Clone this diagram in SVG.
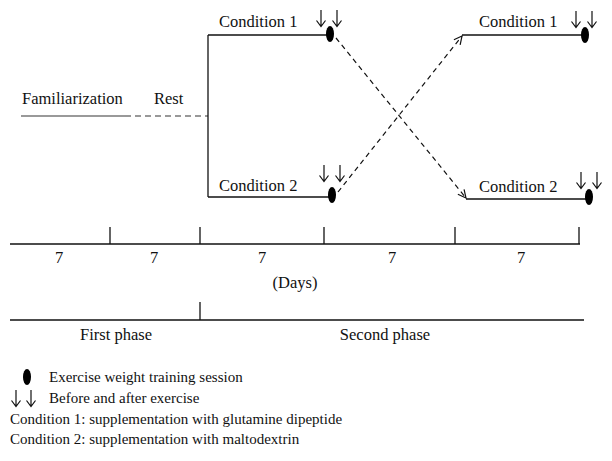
<svg xmlns="http://www.w3.org/2000/svg" width="612" height="461" viewBox="0 0 612 461">
<style>
text{font-family:"Liberation Serif","Times New Roman",serif;font-size:16.5px;fill:#111}
.lg{font-size:15px}
.ln{stroke:#111;stroke-width:1.3;fill:none}
.gl{stroke:#777;stroke-width:1.3;fill:none}
.ds{stroke:#111;stroke-width:1.2;fill:none;stroke-dasharray:5 4}
.mid{text-anchor:middle}
</style>
<defs>
<marker id="ah" viewBox="0 0 10 10" refX="9" refY="5" markerWidth="10" markerHeight="10" markerUnits="userSpaceOnUse" orient="auto">
<path d="M1,1 L9,5 L1,9" fill="none" stroke="#111" stroke-width="1.2"/>
</marker>
<ellipse id="dot" cx="0" cy="0" rx="4" ry="8" fill="#000"/>
<path id="down" d="M0,0 V16.5 M-4.5,10.5 L0,16.5 L4.5,10.5" fill="none" stroke="#111" stroke-width="1.2"/>
</defs>
<rect width="612" height="461" fill="#fff"/>

<g id="familiarization">
<text x="22" y="104">Familiarization</text>
<line class="gl" x1="21" y1="116" x2="125" y2="116"/>
</g>
<g id="rest">
<text x="154" y="104">Rest</text>
<line class="gl" x1="125" y1="116" x2="208" y2="116" stroke-dasharray="6 4"/>
</g>

<g id="cond1-first">
<text x="219" y="27">Condition 1</text>
<use href="#down" x="321" y="10"/>
<use href="#down" x="337" y="10"/>
<line class="ln" x1="208" y1="35" x2="330" y2="35"/>
<use href="#dot" x="330" y="34"/>
</g>
<g id="cond2-first">
<text x="219" y="191">Condition 2</text>
<use href="#down" x="324" y="165"/>
<use href="#down" x="340" y="165"/>
<line class="ln" x1="208" y1="197" x2="332" y2="197"/>
<use href="#dot" x="332" y="195"/>
</g>
<g id="cond1-second">
<text x="479" y="27">Condition 1</text>
<use href="#down" x="576" y="11"/>
<use href="#down" x="592" y="11"/>
<line class="ln" x1="462" y1="35" x2="585" y2="35"/>
<use href="#dot" x="585" y="35"/>
</g>
<g id="cond2-second">
<text x="479" y="192">Condition 2</text>
<use href="#down" x="581" y="172"/>
<use href="#down" x="597" y="172"/>
<line class="ln" x1="466" y1="199" x2="589" y2="199" stroke="#444"/>
<use href="#dot" x="589" y="197"/>
</g>

<g id="connectors">
<line class="ln" x1="208" y1="35" x2="208" y2="197"/>
<line class="ds" x1="336" y1="38" x2="466" y2="198" marker-end="url(#ah)"/>
<line class="ds" x1="338" y1="192" x2="462" y2="36" marker-end="url(#ah)"/>
</g>

<g id="timeline">
<line class="ln" x1="10" y1="244" x2="580" y2="244"/>
<line class="ln" x1="110" y1="227" x2="110" y2="244"/>
<line class="ln" x1="200" y1="227" x2="200" y2="244"/>
<line class="ln" x1="324" y1="227" x2="324" y2="244"/>
<line class="ln" x1="455" y1="227" x2="455" y2="244"/>
<line class="ln" x1="579" y1="227" x2="579" y2="244"/>
<text class="mid" x="59" y="263">7</text>
<text class="mid" x="154" y="263">7</text>
<text class="mid" x="262" y="263">7</text>
<text class="mid" x="392" y="263">7</text>
<text class="mid" x="521" y="263">7</text>
<text class="mid" x="295" y="288">(Days)</text>
</g>

<g id="phases">
<line class="ln" x1="10" y1="320" x2="584" y2="320"/>
<line class="ln" x1="200" y1="302" x2="200" y2="320"/>
<text class="mid" x="116" y="340">First phase</text>
<text class="mid" x="385" y="340">Second phase</text>
</g>

<g id="legend">
<use href="#dot" x="27" y="377"/>
<text class="lg" x="49" y="382">Exercise weight training session</text>
<use href="#down" x="16" y="390"/>
<use href="#down" x="31" y="390"/>
<text class="lg" x="49" y="403">Before and after exercise</text>
<text class="lg" x="10" y="424">Condition 1: supplementation with glutamine dipeptide</text>
<text class="lg" x="10" y="444">Condition 2: supplementation with maltodextrin</text>
</g>
</svg>
